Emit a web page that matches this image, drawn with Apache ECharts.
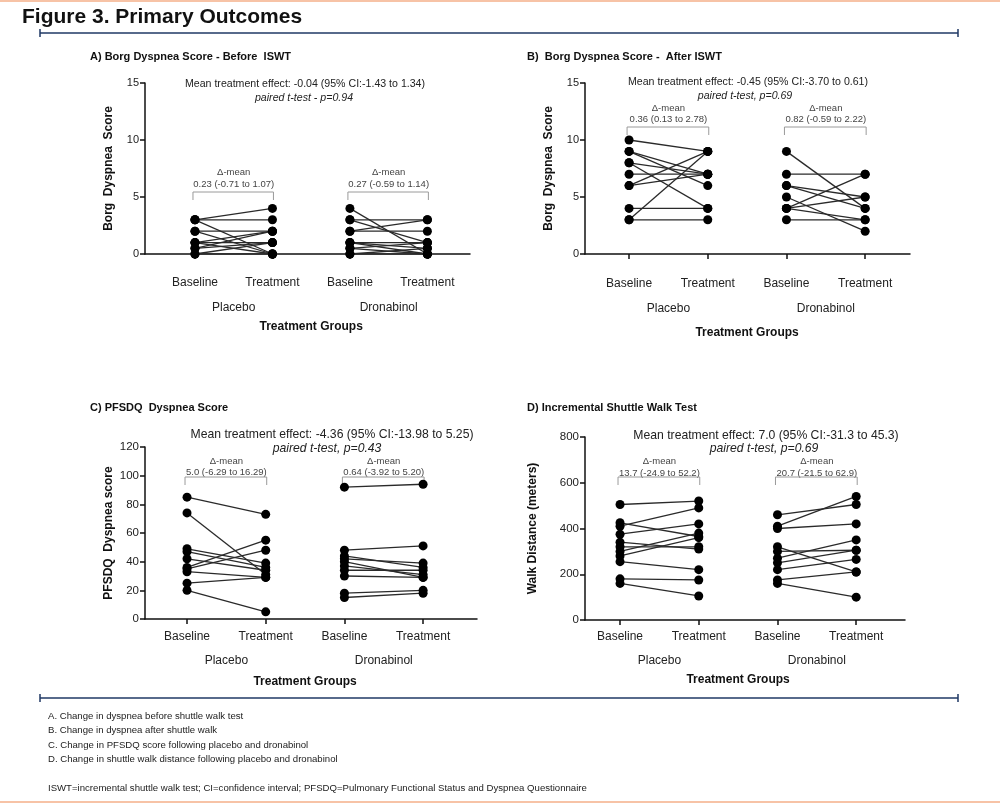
<!DOCTYPE html>
<html><head><meta charset="utf-8">
<script src="https://cdn.jsdelivr.net/npm/echarts@6/dist/echarts.min.js"></script>
<style>html,body{margin:0;padding:0;background:#fff}#c{width:1000px;height:803px}</style>
</head><body><div id="c"></div>
<script>
// ---- data ----
const categories = ['Baseline', 'Treatment', 'Baseline', 'Treatment'];
const groupNames = ['Placebo', 'Dronabinol'];

const aPlaceboBaseline  = [3, 3, 3, 2, 2, 1, 1, 1, 0.5, 0.5, 0, 0];
const aPlaceboTreatment = [4, 3, 0, 2, 0, 2, 1, 0, 1, 2, 0, 1];
const aDronBaseline     = [4, 3, 3, 2, 2, 1, 1, 1, 0.5, 0.5, 0, 0];
const aDronTreatment    = [0, 3, 1, 3, 2, 1, 0.5, 0, 1, 0, 0.5, 0];

const bPlaceboBaseline  = [10, 9, 9, 8, 8, 7, 6, 6, 4, 3, 3];
const bPlaceboTreatment = [9, 7, 6, 7, 4, 7, 9, 7, 4, 3, 9];
const bDronBaseline     = [9, 7, 6, 6, 5, 4, 4, 4, 3];
const bDronTreatment    = [4, 7, 5, 4, 2, 7, 5, 3, 3];

const cPlaceboBaseline  = [85, 74, 49, 47, 42, 36, 35, 33, 25, 20];
const cPlaceboTreatment = [73, 31, 39, 36, 34, 55, 48, 29, 29, 5];
const cDronBaseline     = [92, 48, 44, 42, 40, 37, 34, 30, 18, 15];
const cDronTreatment    = [94, 51, 36, 39, 29, 31, 34, 29, 20, 18];

const dPlaceboBaseline  = [505, 425, 410, 375, 340, 320, 300, 280, 255, 180, 160];
const dPlaceboTreatment = [520, 365, 490, 420, 310, 320, 380, 360, 220, 175, 105];
const dDronBaseline     = [460, 410, 400, 320, 300, 270, 250, 220, 175, 160];
const dDronTreatment    = [505, 540, 420, 210, 305, 350, 305, 265, 210, 100];

const yTicksA = [0, 5, 10, 15];
const yTicksC = [0, 20, 40, 60, 80, 100, 120];
const yTicksD = [0, 200, 400, 600, 800];

const panelTitles = ['A) Borg Dyspnea Score - Before  ISWT', 'B)  Borg Dyspnea Score -  After ISWT', 'C) PFSDQ  Dyspnea Score', 'D) Incremental Shuttle Walk Test'];
const yNames = ['Borg  Dyspnea  Score', 'Borg  Dyspnea  Score', 'PFSDQ  Dyspnea score', 'Walk Distance (meters)'];
const effectTexts = [
  'Mean treatment effect: -0.04 (95% CI:-1.43 to 1.34)',
  'Mean treatment effect: -0.45 (95% CI:-3.70 to 0.61)',
  'Mean treatment effect: -4.36 (95% CI:-13.98 to 5.25)',
  'Mean treatment effect: 7.0 (95% CI:-31.3 to 45.3)'
];
const testTexts = ['paired t-test - p=0.94', 'paired t-test, p=0.69', 'paired t-test, p=0.43', 'paired t-test, p=0.69'];
const deltaTexts = [
  ['0.23 (-0.71 to 1.07)', '0.27 (-0.59 to 1.14)'],
  ['0.36 (0.13 to 2.78)', '0.82 (-0.59 to 2.22)'],
  ['5.0 (-6.29 to 16.29)', '0.64 (-3.92 to 5.20)'],
  ['13.7 (-24.9 to 52.2)', '20.7 (-21.5 to 62.9)']
];
const footnotes = [
  'A. Change in dyspnea before shuttle walk test',
  'B. Change in dyspnea after shuttle walk',
  'C. Change in PFSDQ score following placebo and dronabinol',
  'D. Change in shuttle walk distance following placebo and dronabinol'
];
const abbrevNote = 'ISWT=incremental shuttle walk test; CI=confidence interval; PFSDQ=Pulmonary Functional Status and Dyspnea Questionnaire';

const panelData = [
  [[aPlaceboBaseline, aPlaceboTreatment], [aDronBaseline, aDronTreatment]],
  [[bPlaceboBaseline, bPlaceboTreatment], [bDronBaseline, bDronTreatment]],
  [[cPlaceboBaseline, cPlaceboTreatment], [cDronBaseline, cDronTreatment]],
  [[dPlaceboBaseline, dPlaceboTreatment], [dDronBaseline, dDronTreatment]]
];
const panelTicks = [yTicksA, yTicksA, yTicksC, yTicksD];

// ---- layout ----
const FONT = '"Liberation Sans", Arial, Helvetica, sans-serif';
const L = [
  {left:145, top:83, width:325, height:171, xmin:0.355, xmax:4.55, off:10, lblMargin:13, nameGap:30, tx:90, ty:57,
   eff:[305,84,10.6], test:[304,98], dm:[172,184,192,200], grp:308, tg:327, fs:11},
  {left:585, top:83, width:325, height:171, xmin:0.44, xmax:4.57, off:10, lblMargin:14, nameGap:30, tx:527, ty:57,
   eff:[748,82,10.6], test:[745,96], dm:[108,119,127,135], grp:309, tg:333, fs:11},
  {left:145, top:447, width:332, height:172, xmin:0.466, xmax:4.685, off:1, lblMargin:11, nameGap:30, tx:90, ty:408,
   eff:[332,435,12.2], test:[327,449], dm:[461,472,477,485], grp:661, tg:682, fs:11.5},
  {left:585, top:437, width:320, height:183, xmin:0.555, xmax:4.62, off:0, lblMargin:11, nameGap:38, tx:527, ty:408,
   eff:[766,436,12.2], test:[764,449], dm:[461,473,477,485], grp:661, tg:680, fs:11.5}
];

const chart = echarts.init(document.getElementById('c'), null, {renderer:'canvas'});

const grids = [], xAxes = [], yAxes = [], series = [];
L.forEach((p, i) => {
  const ticks = panelTicks[i];
  grids.push({left:p.left, top:p.top, width:p.width, height:p.height, containLabel:false});
  xAxes.push({
    type:'value', gridIndex:i, min:p.xmin, max:p.xmax, offset:p.off,
    splitLine:{show:false},
    axisLine:{show:true, lineStyle:{color:'#111', width:1.5}},
    axisTick:{show:true, customValues:[1,2,3,4], length:5, lineStyle:{color:'#111', width:1.5}},
    axisLabel:{show:true, customValues:[1,2,3,4], margin:p.lblMargin, formatter:v => categories[Math.round(v)-1] || '',
      color:'#222', fontSize:12, fontFamily:FONT}
  });
  yAxes.push({
    type:'value', gridIndex:i, min:ticks[0], max:ticks[ticks.length-1], interval:ticks[1]-ticks[0],
    name:yNames[i], nameLocation:'middle', nameGap:p.nameGap + (i===3?8:0), nameRotate:90,
    nameTextStyle:{fontFamily:FONT, fontWeight:'bold', fontSize:12, color:'#111'},
    splitLine:{show:false},
    axisLine:{show:true, lineStyle:{color:'#111', width:1.5}},
    axisTick:{show:true, length:5, lineStyle:{color:'#111', width:1.5}},
    axisLabel:{color:'#222', fontSize:p.fs, fontFamily:FONT, margin:6}
  });
  panelData[i].forEach((grp, g) => {
    const base = grp[0], treat = grp[1];
    for (let k = 0; k < base.length; k++) {
      series.push({
        type:'line', xAxisIndex:i, yAxisIndex:i, silent:true, animation:false,
        symbol:'circle', symbolSize:9, showSymbol:true,
        itemStyle:{color:'#000'}, lineStyle:{color:'#2a2a2a', width:1.3},
        data:[[1 + 2*g, base[k]], [2 + 2*g, treat[k]]]
      });
    }
  });
});

chart.setOption({backgroundColor:'#fff', animation:false, grid:grids, xAxis:xAxes, yAxis:yAxes, series:series});

// ---- annotations ----
const gfx = [];
const txt = (text, x, y, font, fill, align, extra) => gfx.push(Object.assign({type:'text', silent:true,
  style:{text, x, y, font, fill:fill||'#222', textAlign:align||'left', textVerticalAlign:'middle'}}, extra||{}));

gfx.push({type:'rect', silent:true, shape:{x:0, y:0, width:1000, height:2}, style:{fill:'#f7c3a6'}});
gfx.push({type:'rect', silent:true, shape:{x:0, y:801, width:1000, height:2}, style:{fill:'#f7c3a6'}});
txt('Figure 3. Primary Outcomes', 22, 17, 'bold 21px ' + FONT, '#111');
[33, 698].forEach(y => {
  gfx.push({type:'line', silent:true, shape:{x1:40, y1:y, x2:958, y2:y}, style:{stroke:'#1f3864', lineWidth:1.5}});
  gfx.push({type:'line', silent:true, shape:{x1:40, y1:y-4, x2:40, y2:y+4}, style:{stroke:'#1f3864', lineWidth:1.5}});
  gfx.push({type:'line', silent:true, shape:{x1:958, y1:y-4, x2:958, y2:y+4}, style:{stroke:'#1f3864', lineWidth:1.5}});
});

L.forEach((p, i) => {
  txt(panelTitles[i], p.tx, p.ty, 'bold 11px ' + FONT, '#111');
  txt(effectTexts[i], p.eff[0], p.eff[1], p.eff[2] + 'px ' + FONT, '#222', 'center');
  txt(testTexts[i], p.test[0], p.test[1], 'italic ' + p.eff[2] + 'px ' + FONT, '#222', 'center');
  for (let g = 0; g < 2; g++) {
    const x1 = chart.convertToPixel({gridIndex:i}, [1 + 2*g, 0])[0];
    const x2 = chart.convertToPixel({gridIndex:i}, [2 + 2*g, 0])[0];
    const xm = (x1 + x2) / 2;
    txt('\u0394-mean', xm, p.dm[0], '9.5px ' + FONT, '#444', 'center');
    txt(deltaTexts[i][g], xm, p.dm[1], '9.5px ' + FONT, '#444', 'center');
    gfx.push({type:'polyline', silent:true, shape:{points:[[x1-2, p.dm[3]], [x1-2, p.dm[2]], [x2+1, p.dm[2]], [x2+1, p.dm[3]]]},
      style:{stroke:'#9a9a9a', lineWidth:1, fill:null}});
    txt(groupNames[g], xm, p.grp, '12px ' + FONT, '#222', 'center');
  }
  const xa = chart.convertToPixel({gridIndex:i}, [1, 0])[0];
  const xb = chart.convertToPixel({gridIndex:i}, [4, 0])[0];
  txt('Treatment Groups', (xa + xb) / 2, p.tg, 'bold 12px ' + FONT, '#111', 'center');
});

footnotes.forEach((f, k) => txt(f, 48, 716 + k * 14.5, '9.6px ' + FONT, '#222'));
txt(abbrevNote, 48, 788, '9.6px ' + FONT, '#222');

chart.setOption({graphic:{elements:gfx}});
</script></body></html>
